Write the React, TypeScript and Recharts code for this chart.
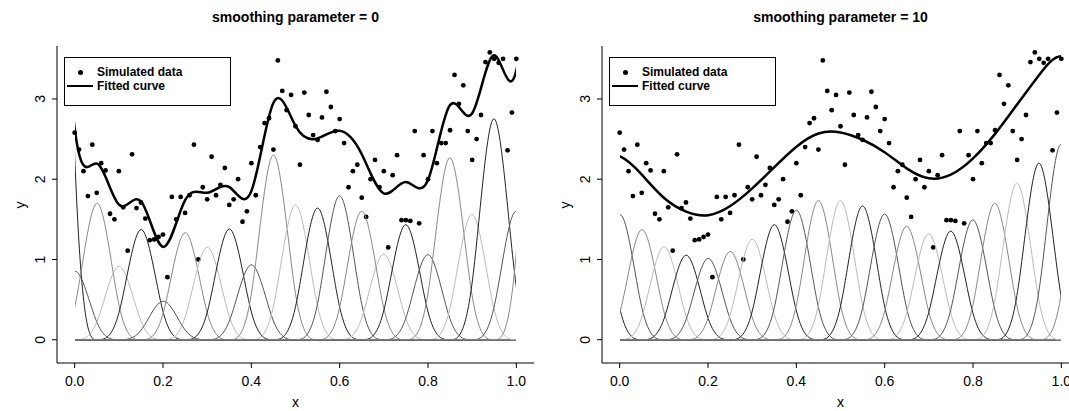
import React from 'react';
import { ComposedChart, LineChart, Line, Scatter, XAxis, YAxis, Legend } from 'recharts';

// centres of the cubic B-spline basis functions (spacing 0.05, one outside each end)
const knotX = [-0.05, 0, 0.05, 0.1, 0.15, 0.2, 0.25, 0.3, 0.35, 0.4, 0.45, 0.5, 0.55, 0.6, 0.65, 0.7, 0.75, 0.8, 0.85, 0.9, 0.95, 1, 1.05];

// basis coefficients (a bump peaks at 2/3 of its coefficient)
const coefLambda0 = [13.2, 1.28, 2.55, 1.37, 2.06, 0.72, 2.0, 1.73, 2.07, 1.4, 3.45, 2.52, 2.46, 2.69, 2.4, 1.6, 2.15, 1.59, 3.4, 2.34, 4.13, 2.4, 6.3];
const fitLambda0 = [6.7, 1.59, 2.55, 1.37, 2.06, 0.72, 2.0, 1.73, 2.07, 1.4, 3.45, 2.52, 2.46, 2.69, 2.4, 1.6, 2.15, 1.59, 3.4, 2.34, 4.13, 2.4, 6.3];
const coefLambda10 = [2.28, 2.34, 2.06, 1.74, 1.58, 1.52, 1.65, 1.88, 2.15, 2.42, 2.6, 2.6, 2.5, 2.35, 2.12, 1.98, 2.03, 2.24, 2.55, 2.93, 3.3, 3.65, 3.3];

// simulated observations
const simX = [
  0, 0.01, 0.02, 0.03, 0.04, 0.05, 0.06, 0.07, 0.08, 0.09, 0.1, 0.11, 0.12, 0.13, 0.14, 0.15, 0.16, 0.17, 0.18, 0.19,
  0.2, 0.21, 0.22, 0.23, 0.24, 0.25, 0.26, 0.27, 0.28, 0.29, 0.3, 0.31, 0.32, 0.33, 0.34, 0.35, 0.36, 0.37, 0.38, 0.39,
  0.4, 0.41, 0.42, 0.43, 0.44, 0.45, 0.46, 0.47, 0.48, 0.49, 0.5, 0.51, 0.52, 0.53, 0.54, 0.55, 0.56, 0.57, 0.58, 0.59,
  0.6, 0.61, 0.62, 0.63, 0.64, 0.65, 0.66, 0.67, 0.68, 0.69, 0.7, 0.71, 0.72, 0.73, 0.74, 0.75, 0.76, 0.77, 0.78, 0.79,
  0.8, 0.81, 0.82, 0.83, 0.84, 0.85, 0.86, 0.87, 0.88, 0.89, 0.9, 0.91, 0.92, 0.93, 0.94, 0.95, 0.96, 0.97, 0.98, 0.99, 1,
];
const simY = [
  2.58, 2.37, 2.1, 1.79, 2.43, 1.83, 2.2, 2.11, 1.57, 1.5, 2.1, 1.65, 1.11, 2.31, 1.64, 1.71, 1.51, 1.24, 1.25, 1.28,
  1.31, 0.78, 1.78, 1.5, 1.78, 1.58, 1.8, 2.43, 1.0, 1.9, 1.75, 2.28, 1.8, 1.93, 2.14, 1.68, 1.75, 2.0, 1.47, 1.6,
  2.2, 1.8, 2.4, 2.7, 2.76, 2.37, 3.48, 3.1, 2.86, 3.05, 2.66, 2.18, 3.08, 2.8, 2.55, 2.49, 2.77, 3.09, 2.9, 2.6,
  2.75, 2.45, 1.9, 2.1, 2.18, 1.77, 1.53, 2.0, 2.24, 1.9, 2.1, 1.15, 2.05, 2.3, 1.49, 1.49, 1.48, 2.6, 1.45, 2.3,
  2.0, 2.6, 2.2, 2.45, 2.45, 2.61, 3.3, 2.94, 3.17, 2.6, 2.24, 2.5, 2.8, 3.46, 3.58, 3.5, 3.45, 3.5, 2.36, 2.83, 3.5,
];

const xTicks = [0, 0.2, 0.4, 0.6, 0.8, 1];
const yTicks = [0, 1, 2, 3];
const basisGrays = ['#222222', '#555555', '#888888', '#bbbbbb'];

const W = 545;
const H = 411;
const xDomain: [number, number] = [-0.04, 1.04];
const yDomain: [number, number] = [-0.29, 3.66];
const FONT = '"Liberation Sans", Arial, Helvetica, sans-serif';

function YTick({ y, payload }: any) {
  return (
    <text x={40} y={y} transform={`rotate(-90 40 ${y})`} textAnchor="middle" dy="0.35em" fontSize={14} fill="#000">
      {payload.value}
    </text>
  );
}

function YTitle() {
  return (
    <text x={22} y={205} transform="rotate(-90 22 205)" textAnchor="middle" dy="0.2em" fontSize={14} fill="#000">
      y
    </text>
  );
}

function LegendBox() {
  return (
    <div style={{ width: 167, height: 49, boxSizing: 'border-box', border: '1px solid #000', background: '#fff', position: 'relative', fontSize: 12, fontWeight: 'bold', color: '#000', fontFamily: FONT }}>
      <span style={{ position: 'absolute', left: 12.5, top: 11.5, width: 5, height: 5, borderRadius: '50%', background: '#000' }} />
      <span style={{ position: 'absolute', left: 2, top: 26.5, width: 26, height: 2.5, background: '#000' }} />
      <span style={{ position: 'absolute', left: 32, top: 6, lineHeight: '16px', whiteSpace: 'nowrap' }}>Simulated data</span>
      <span style={{ position: 'absolute', left: 32, top: 20, lineHeight: '16px', whiteSpace: 'nowrap' }}>Fitted curve</span>
    </div>
  );
}

function Panel({ left, title, coef, fit }: { left: number; title: string; coef: number[]; fit: number[] }) {
  const points = simX.map((x, i) => ({ x, y: simY[i] }));
  const fitted = knotX.map((x, i) => ({ x, y: fit[i] }));
  const basis = coef.map((c, j) => knotX.map((x, i) => ({ x, y: i === j ? c : 0 })));

  return (
    <div style={{ position: 'absolute', left, top: 0, width: W, height: H }}>
      <div style={{ position: 'absolute', left: 57, top: 8, width: 477, textAlign: 'center', fontSize: 14, fontWeight: 'bold', lineHeight: '18px' }}>
        {title}
      </div>
      <div style={{ position: 'absolute', left: 0, top: 0 }}>
        <ComposedChart width={W} height={H} margin={{ top: 46, right: 11, bottom: 0, left: 17 }}>
          <XAxis
            xAxisId="b"
            type="number"
            dataKey="x"
            domain={xDomain}
            ticks={xTicks}
            tickFormatter={(v: number) => v.toFixed(1)}
            height={48}
            tickSize={5}
            tickMargin={8}
            stroke="#000"
            tick={{ fontSize: 14, fill: '#000' }}
            label={{ value: 'x', position: 'insideBottom', offset: 4.5, fontSize: 14, fill: '#000' }}
          />
          <XAxis xAxisId="t" orientation="top" type="number" domain={xDomain} ticks={xTicks} height={0} tick={false} tickSize={3} mirror stroke="#000" />
          <YAxis yAxisId="l" type="number" dataKey="y" domain={yDomain} ticks={yTicks} width={40} tickSize={5} stroke="#000" tick={<YTick />} label={<YTitle />} />
          <YAxis yAxisId="r" orientation="right" type="number" domain={yDomain} width={0} tick={false} tickLine={false} stroke="#000" />
          <Scatter
            xAxisId="b"
            yAxisId="l"
            data={points}
            fill="#000"
            isAnimationActive={false}
            shape={(p: any) => <circle cx={p.cx} cy={p.cy} r={2.4} fill="#000" />}
          />
        </ComposedChart>
      </div>
      <div style={{ position: 'absolute', left: 0, top: 0 }}>
        <LineChart width={W} height={H} margin={{ top: 46, right: 29, bottom: 48, left: 75 }}>
          <XAxis type="number" dataKey="x" domain={[0, 1]} allowDataOverflow hide />
          <YAxis type="number" dataKey="y" domain={yDomain} allowDataOverflow hide />
          {basis.map((d, j) => (
            <Line
              key={j}
              data={d}
              dataKey="y"
              type="basis"
              stroke={basisGrays[j % 4]}
              strokeWidth={1}
              dot={false}
              activeDot={false}
              isAnimationActive={false}
            />
          ))}
          <Line data={fitted} dataKey="y" type="basis" stroke="#000" strokeWidth={2.5} dot={false} activeDot={false} isAnimationActive={false} />
          <Legend
            layout="vertical"
            align="center"
            verticalAlign="middle"
            content={() => <LegendBox />}
            wrapperStyle={{ position: 'absolute', left: 64, top: 57, width: 167, height: 49 }}
          />
        </LineChart>
      </div>
    </div>
  );
}

export default function App() {
  return (
    <div style={{ position: 'absolute', left: 0, top: 0, width: 1069, height: 411, overflow: 'hidden', background: '#fff', fontFamily: FONT }}>
      <Panel left={0} title="smoothing parameter = 0" coef={coefLambda0} fit={fitLambda0} />
      <Panel left={545} title="smoothing parameter = 10" coef={coefLambda10} fit={coefLambda10} />
    </div>
  );
}
